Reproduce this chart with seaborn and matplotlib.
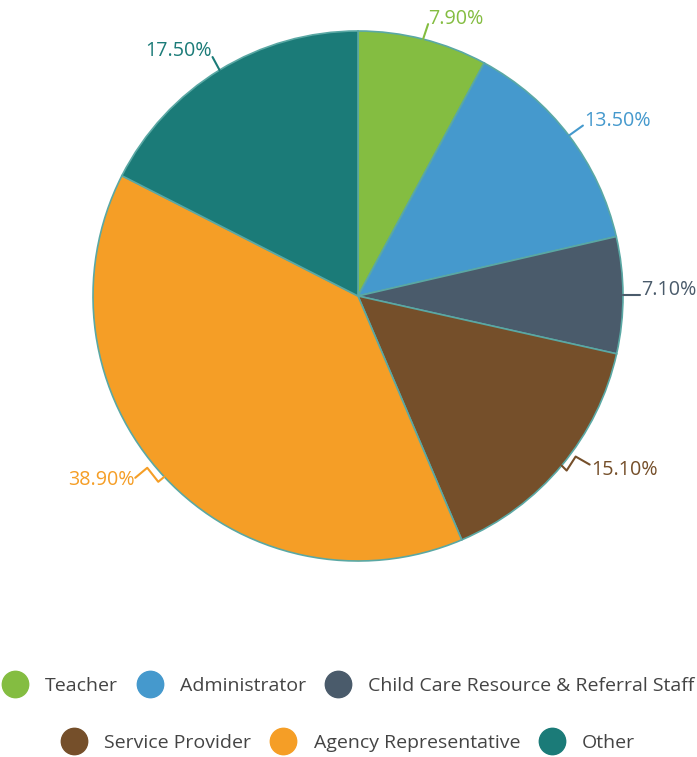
import matplotlib
matplotlib.use("Agg")
import matplotlib.pyplot as plt
from matplotlib.lines import Line2D
import numpy as np
import seaborn as sns

# data
roles = ["Teacher", "Administrator", "Child Care Resource & Referral Staff",
         "Service Provider", "Agency Representative", "Other"]
shares = [7.9, 13.5, 7.1, 15.1, 38.9, 17.5]
colors = ["#84bd41", "#4599cd", "#4a5b6b", "#754f2a", "#f59e26", "#1b7b78"]

sns.set_theme(style="white")
plt.rcParams['font.family'] = ['Open Sans', 'DejaVu Sans']

W, H = 697, 757
fig = plt.figure(figsize=(W / 100, H / 100), dpi=100)

# pie placement in pixels
cx, cy, R = 358, 296, 265
ax = fig.add_axes([(cx - R) / W, (H - cy - R) / H, 2 * R / W, 2 * R / H])

pal = sns.color_palette(colors)
wedges, _ = ax.pie(shares, colors=pal, startangle=90, counterclock=False,
                   radius=1, wedgeprops=dict(edgecolor="#5aa8a4", linewidth=1.2))
ax.set_xlim(-1, 1)
ax.set_ylim(-1, 1)
ax.axis("off")

# leader line shapes (pixel offsets from wedge edge, y down), text offset, alignment
leaders = [
    ([(0, 0), (5, -15)], (0, 0), "left", "baseline"),
    ([(0, 0), (14, -10)], (1, 0), "left", "baseline"),
    ([(0, 0), (17, 0)], (1, 0), "left", "baseline"),
    ([(0, 0), (5, 5), (14, -9), (28, -1)], (2, 5), "left", "center"),
    ([(0, 0), (-6, 5), (-17, -9), (-29, 1)], (-1, 2), "right", "center"),
    ([(0, 0), (-7, -13)], (-1, -1), "right", "baseline"),
]

for w, val, col, (path, toff, ha, va) in zip(wedges, shares, pal, leaders):
    mid = np.deg2rad((w.theta1 + w.theta2) / 2)
    ex, ey = np.cos(mid), np.sin(mid)
    xs = [ex + p[0] / R for p in path]
    ys = [ey - p[1] / R for p in path]
    ax.plot(xs, ys, color=col, lw=1.5, clip_on=False)
    ax.text(xs[-1] + toff[0] / R, ys[-1] - toff[1] / R, f"{val:.2f}%",
            color=col, fontsize=14.2, ha=ha, va=va, clip_on=False)

# legend in two centred rows
def handles(idx):
    return [Line2D([0], [0], marker="o", linestyle="", markersize=19,
                   markerfacecolor=pal[i], markeredgecolor=pal[i]) for i in idx]

for idx, yrow in [([0, 1, 2], 686), ([3, 4, 5], 743)]:
    fig.legend(handles(idx), [roles[i] for i in idx], loc="center",
               bbox_to_anchor=(0.502, 1 - yrow / H), ncol=3, frameon=False,
               fontsize=14, handlelength=1.0, handletextpad=1.05,
               columnspacing=1.15, labelcolor="#444444", borderpad=0)

fig.savefig("out.png", dpi=100)
